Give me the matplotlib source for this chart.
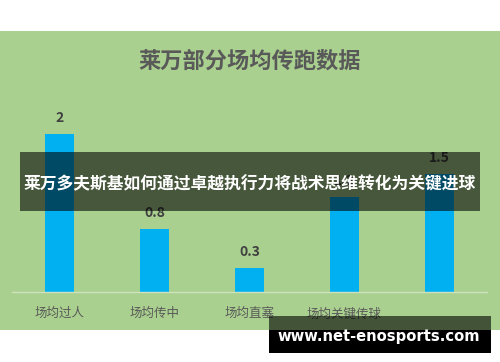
import matplotlib
matplotlib.use('Agg')
import matplotlib.pyplot as plt
from matplotlib.patches import Rectangle

plt.rcParams['font.family'] = ['Noto Sans CJK SC', 'DejaVu Sans']

# data
categories = ['场均过人', '场均传中', '场均直塞', '场均关键传球', '']
values = [2, 0.8, 0.3, 1.2, 1.5]
value_labels = ['2', '0.8', '0.3', '1.2', '1.5']

title = '莱万部分场均传跑数据'
banner = '莱万多夫斯基如何通过卓越执行力将战术思维转化为关键进球'
site = 'www.net-enosports.com'

W, H = 500, 362
fig = plt.figure(figsize=(W / 100, H / 100), dpi=100)
fig.patch.set_facecolor('white')


def box(x0, y0, x1, y1, **kw):
    # pixel box, origin top left
    r = Rectangle((x0 / W, 1 - y1 / H), (x1 - x0) / W, (y1 - y0) / H,
                  transform=fig.transFigure, **kw)
    fig.patches.append(r)
    return r


# green panel behind the chart
box(0, 31, 500, 330, facecolor='#A9D08E', edgecolor='none', zorder=-1)

ax = fig.add_axes([12 / W, 1 - 292 / H, 475 / W, 197.5 / H])
ax.set_facecolor('none')
x = range(len(categories))
ax.bar(x, values, width=0.31, color='#00B0F0', zorder=2)
ax.set_xlim(-0.5, len(categories) - 0.5)
ax.set_ylim(0, 2.5)
ax.set_xticks(list(x))
ax.set_xticklabels(categories, fontsize=9, color='#595959')
ax.tick_params(axis='x', length=0, pad=11)
ax.set_yticks([])
for s in ['top', 'right', 'left']:
    ax.spines[s].set_visible(False)
ax.spines['bottom'].set_color('#CFE2C0')
ax.spines['bottom'].set_linewidth(1)

for i, v in enumerate(values):
    ax.annotate(value_labels[i], (i, v), xytext=(0, 16), textcoords='offset pixels',
                ha='center', va='center', fontsize=10, fontweight='bold', color='#404040')

fig.text(0.5, 1 - 61 / H, title, ha='center', va='center', fontsize=16,
         fontweight='bold', color='#595959')

# dark banner over the chart
box(20, 152, 480, 211, facecolor='black', alpha=0.58, edgecolor='none', zorder=10)
fig.text(250 / W, 1 - 184 / H, banner, ha='center', va='center', fontsize=12.1,
         fontweight='bold', color='white', zorder=11)

# site watermark
box(269, 316, 491, 330, facecolor='black', alpha=0.6, edgecolor='none', zorder=10)
box(269, 330, 491, 353, facecolor='black', edgecolor='none', zorder=10)
fig.text(379 / W, 1 - 336 / H, site, ha='center', va='center', fontsize=10.6,
         fontweight='bold', color='white', family='DejaVu Sans', zorder=11)

fig.savefig('out.png', dpi=100)
